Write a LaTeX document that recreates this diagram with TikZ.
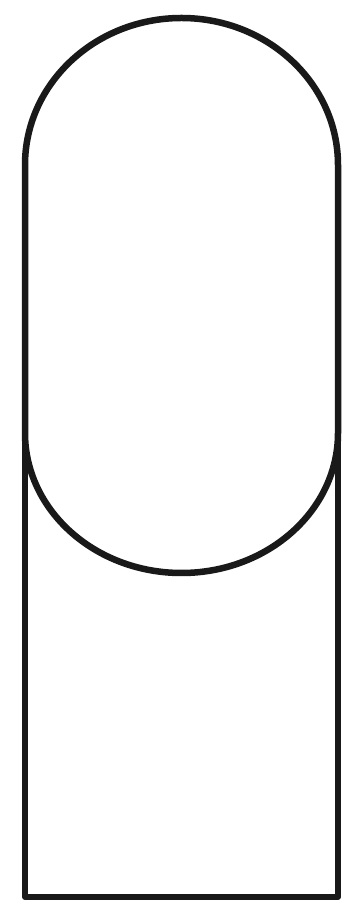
\documentclass[tikz,border=0pt]{standalone}
\begin{document}
\begin{tikzpicture}[x=1bp,y=1bp,line width=6.5bp,outline/.style={draw=black!90,line join=round}]
\useasboundingbox (0,0) rectangle (353,909);
% capsule
\draw[outline] (25,744) arc[start angle=180,end angle=0,x radius=156.5,y radius=147]
  -- (338,476) arc[start angle=0,end angle=-180,x radius=156.5,y radius=140] -- cycle;
% open rectangle below
\draw[outline,line width=6bp] (25,476) -- (25,12) -- (338,12) -- (338,476);
\end{tikzpicture}
\end{document}
